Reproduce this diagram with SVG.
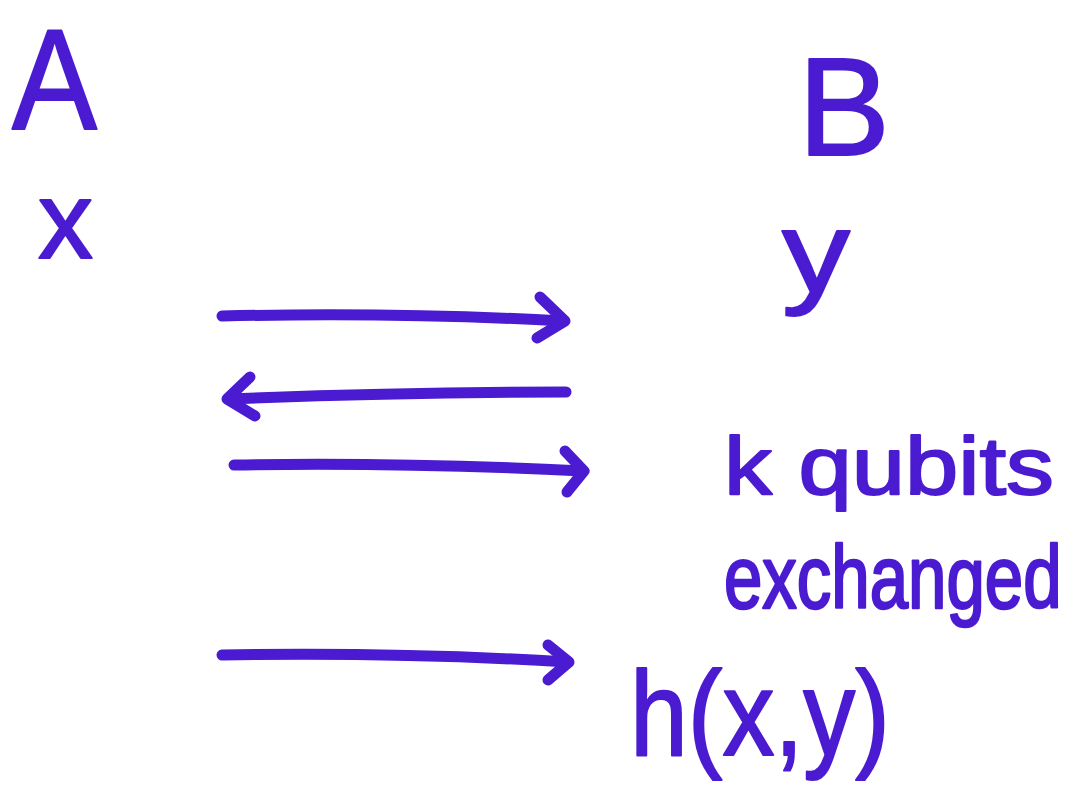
<svg xmlns="http://www.w3.org/2000/svg" width="1081" height="791" viewBox="0 0 1081 791">
<style>
.t{font-family:"Liberation Sans",Arial,sans-serif;fill:#4a1bd0;stroke:#4a1bd0;stroke-width:2;stroke-linejoin:round}
.c{fill:none;stroke:#4a1bd0;stroke-width:11;stroke-linecap:round;stroke-linejoin:round}
</style>
<rect width="1081" height="791" fill="#ffffff"/>
<g id="nodeA"><text class="t" x="12" y="129" font-size="142" textLength="85" lengthAdjust="spacingAndGlyphs">A</text></g>
<g id="nodeB"><text class="t" x="798" y="155" font-size="140" textLength="92" lengthAdjust="spacingAndGlyphs">B</text></g>
<g id="labelx"><text class="t" x="38" y="258" font-size="110" textLength="55" lengthAdjust="spacingAndGlyphs">x</text></g>
<g id="labely"><text class="t" x="782" y="292" font-size="115" textLength="68" lengthAdjust="spacingAndGlyphs">y</text></g>
<g id="labelk"><text class="t" x="724" y="494" font-size="82" textLength="330" lengthAdjust="spacingAndGlyphs">k qubits</text></g>
<g id="labelex"><text class="t" transform="translate(724,608) scale(1,1.3)" x="0" y="0" font-size="69">exchanged</text></g>
<g id="labelh"><text class="t" x="630" y="755" font-size="120" textLength="260" lengthAdjust="spacingAndGlyphs">h(x,y)</text></g>
<g id="connectors">
<path class="c" d="M222 316 Q400 312 563 321"/>
<path class="c" d="M540 297 L565 321 L537 338"/>
<path class="c" d="M566 392 Q400 392 228 399"/>
<path class="c" d="M250 377 L227 399 L255 416"/>
<path class="c" d="M234 465 Q400 462 583 471"/>
<path class="c" d="M565 451 L584 471 L567 492"/>
<path class="c" d="M222 655 Q400 652 568 662"/>
<path class="c" d="M548 645 L569 662 L548 680"/>
</g>
</svg>
